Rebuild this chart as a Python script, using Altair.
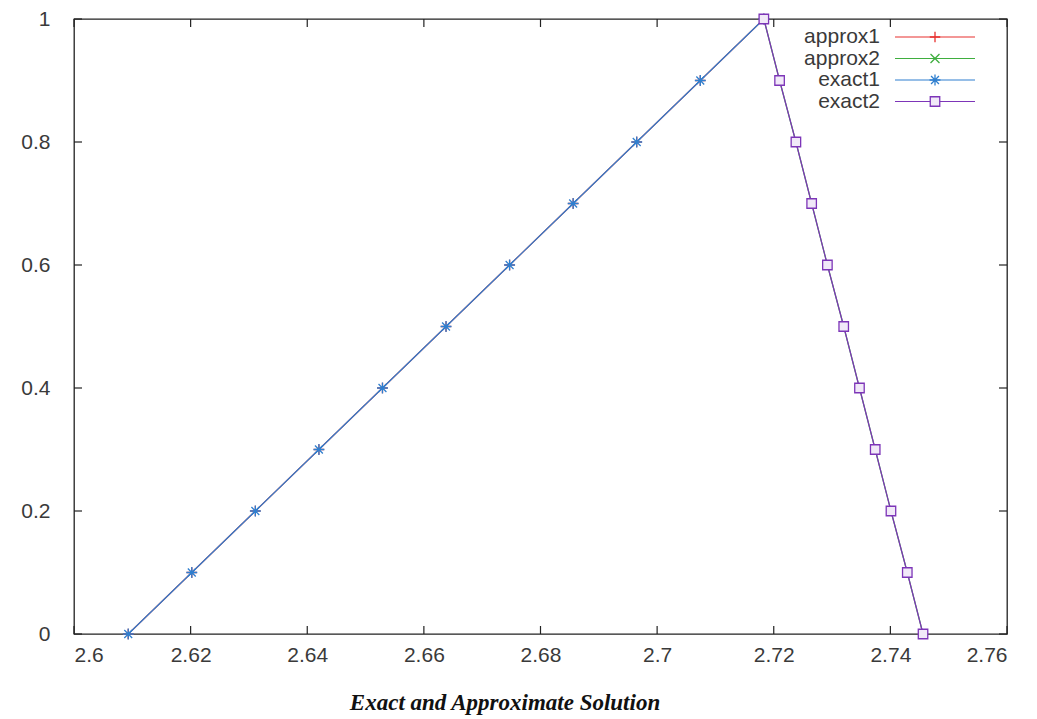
import altair as alt
import pandas as pd

# ---- data ----
y_vals = [0.0, 0.1, 0.2, 0.3, 0.4, 0.5, 0.6, 0.7, 0.8, 0.9, 1.0]
exact1_x = [2.6093, 2.6202, 2.6311, 2.6420, 2.6529, 2.6638, 2.6747, 2.6856, 2.6965, 2.7074, 2.7183]
exact2_x = [2.7456, 2.7429, 2.7401, 2.7374, 2.7347, 2.7320, 2.7292, 2.7265, 2.7238, 2.7210, 2.7183]
approx1_x = exact1_x
approx2_x = exact2_x

series_names = ["approx1", "approx2", "exact1", "exact2"]
series_colors = ["#e8312f", "#3fae3f", "#2f7fcf", "#7d35b8"]
series_shapes = [
    "M-1,0L1,0M0,-1L0,1",
    "M-1,-1L1,1M-1,1L1,-1",
    "M-1,0L1,0M0,-1L0,1M-0.72,-0.72L0.72,0.72M-0.72,0.72L0.72,-0.72",
    "square",
]
series_sizes = [110, 80, 120, 90]
series_fill = [None, None, None, "#f1e9f8"]

x_ticks = [2.6, 2.62, 2.64, 2.66, 2.68, 2.7, 2.72, 2.74, 2.76]
y_ticks = [0, 0.2, 0.4, 0.6, 0.8, 1]
title_text = "Exact and Approximate Solution"

W, H = 933, 615
FONT = "Liberation Sans"
LABEL_COLOR = "#3a3a3a"

series_x = {"approx1": approx1_x, "approx2": approx2_x, "exact1": exact1_x, "exact2": exact2_x}
rows = []
for name in series_names:
    for i, (xv, yv) in enumerate(zip(series_x[name], y_vals)):
        rows.append({"series": name, "x": xv, "y": yv, "order": i})
df = pd.DataFrame(rows)

xscale = alt.Scale(domain=[2.6, 2.76], nice=False, zero=False)
yscale = alt.Scale(domain=[0, 1], nice=False, zero=False)

x_axis = alt.Axis(values=x_ticks, ticks=False, domain=False, grid=False, title=None,
                  labelFont=FONT, labelFontSize=21, labelColor=LABEL_COLOR,
                  labelPadding=10, labelExpr="format(datum.value, '~g')")
y_axis = alt.Axis(values=y_ticks, ticks=False, domain=False, grid=False, title=None,
                  labelFont=FONT, labelFontSize=21, labelColor=LABEL_COLOR,
                  labelPadding=24, labelExpr="format(datum.value, '~g')")

layers = []
for name, col, shp, sz, fl in zip(series_names, series_colors, series_shapes, series_sizes, series_fill):
    sub = df[df.series == name]
    base = alt.Chart(sub)
    if not layers:
        xe = alt.X("x:Q", scale=xscale, axis=x_axis)
        ye = alt.Y("y:Q", scale=yscale, axis=y_axis)
    else:
        xe = alt.X("x:Q", scale=xscale)
        ye = alt.Y("y:Q", scale=yscale)
    line = base.mark_line(color=col, strokeWidth=1.2).encode(x=xe, y=ye, order="order:Q")
    pkw = dict(shape=shp, color=col, size=sz, strokeWidth=1.3, opacity=1, filled=False)
    if fl:
        pkw.update(fill=fl, fillOpacity=1)
    pts = base.mark_point(**pkw).encode(x=alt.X("x:Q", scale=xscale), y=alt.Y("y:Q", scale=yscale))
    layers += [line, pts]

# inward ticks on all four sides
xt = pd.DataFrame({"t": x_ticks})
yt = pd.DataFrame({"t": y_ticks})
tick_style = dict(color="#222222", strokeWidth=1.2)
ticks = [
    alt.Chart(xt).mark_rule(**tick_style).encode(x=alt.X("t:Q", scale=xscale), y=alt.value(H), y2=alt.value(H - 8)),
    alt.Chart(xt).mark_rule(**tick_style).encode(x=alt.X("t:Q", scale=xscale), y=alt.value(0), y2=alt.value(8)),
    alt.Chart(yt).mark_rule(**tick_style).encode(y=alt.Y("t:Q", scale=yscale), x=alt.value(0), x2=alt.value(8)),
    alt.Chart(yt).mark_rule(**tick_style).encode(y=alt.Y("t:Q", scale=yscale), x=alt.value(W), x2=alt.value(W - 8)),
]

# key (gnuplot style: label, then line sample with marker)
leg = pd.DataFrame({"series": series_names, "i": list(range(len(series_names)))})
leg_layers = []
for name, col, shp, sz, fl in zip(series_names, series_colors, series_shapes, series_sizes, series_fill):
    d = leg[leg.series == name]
    b = alt.Chart(d).transform_calculate(py="18 + datum.i * 21.5")
    leg_layers.append(b.mark_text(align="right", baseline="middle", font=FONT, fontSize=21, color=LABEL_COLOR).encode(
        text="series:N", x=alt.value(806), y=alt.Y("py:Q", scale=None)))
    leg_layers.append(b.mark_rule(color=col, strokeWidth=1.2).encode(
        x=alt.value(821), x2=alt.value(901), y=alt.Y("py:Q", scale=None)))
    pkw = dict(shape=shp, color=col, size=sz, strokeWidth=1.3, opacity=1, filled=False)
    if fl:
        pkw.update(fill=fl, fillOpacity=1)
    leg_layers.append(b.mark_point(**pkw).encode(x=alt.value(861), y=alt.Y("py:Q", scale=None)))

# caption below the plot
caption = alt.Chart(pd.DataFrame({"t": [title_text]})).mark_text(
    align="center", baseline="middle", font="Liberation Serif", fontSize=23,
    fontWeight="bold", fontStyle="italic", color="#111111").encode(
    text="t:N", x=alt.value(431), y=alt.value(H + 69))

chart = alt.layer(*layers, *ticks, *leg_layers, caption).properties(
    width=W, height=H,
    autosize=alt.AutoSizeParams(type="none"),
    padding={"left": 66, "top": 11, "right": 22, "bottom": 85},
).configure(background="white").configure_view(stroke="#222222", strokeWidth=1.3)

chart.save("out.html", embed_options={"renderer": "svg", "actions": False})
